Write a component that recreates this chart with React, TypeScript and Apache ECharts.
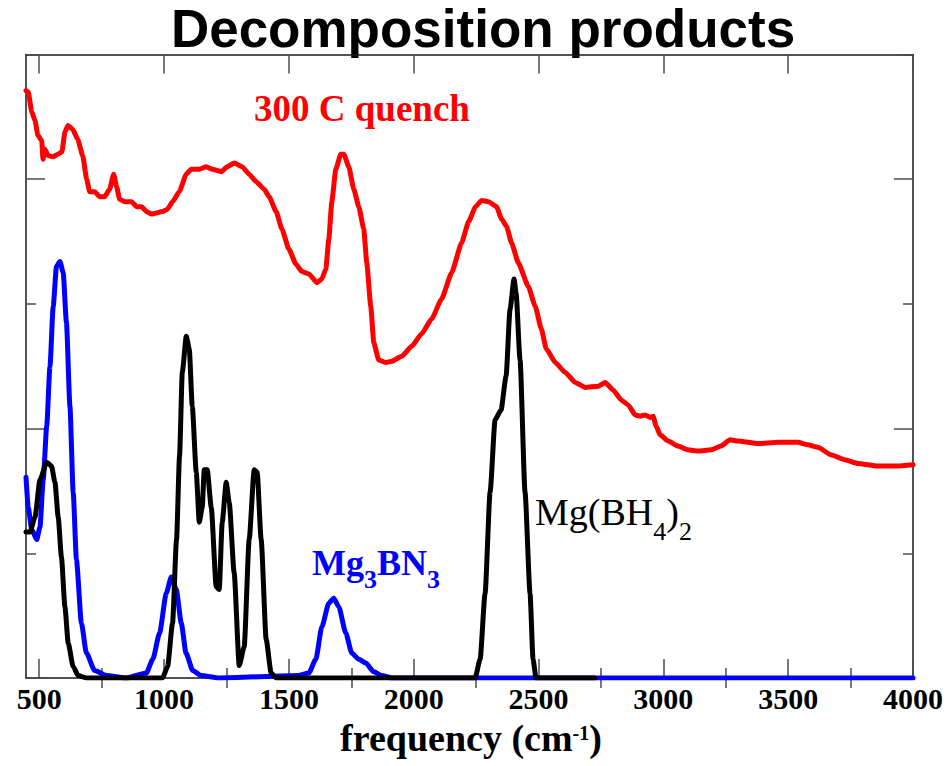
import { useEffect, useRef } from "react";
import * as echarts from "echarts";

// Frequency axis range (cm^-1) and tick positions
const FREQ_MIN = 447;
const FREQ_MAX = 4000;
const freqMajorTicks = [500, 1000, 1500, 2000, 2500, 3000, 3500, 4000];
const freqMinorTicks = [750, 1250, 1750, 2250, 2750, 3250, 3750];

// Intensity axis (arbitrary units, curves offset for clarity)
const INT_MIN = 0;
const INT_MAX = 5;
const intMajorTicks = [0, 2, 4];
const intMinorTicks = [1, 3, 5];

// Measured spectrum of the sample quenched from 300 C
const quench300C: [number, number][] = [
  [447, 4.71], [456, 4.7], [470, 4.54], [483, 4.47], [495, 4.35], [510, 4.31], [515, 4.16],
  [523, 4.24], [535, 4.19], [555, 4.18], [575, 4.2], [591, 4.22], [603, 4.38], [615, 4.43],
  [634, 4.4], [654, 4.32], [674, 4.19], [690, 4.0], [702, 3.9], [722, 3.9], [742, 3.86],
  [762, 3.86], [782, 3.92], [798, 4.04], [810, 3.94], [822, 3.84], [842, 3.82], [870, 3.82],
  [890, 3.78], [910, 3.78], [930, 3.74], [950, 3.72], [994, 3.74], [1014, 3.76], [1034, 3.82],
  [1061, 3.9], [1089, 4.04], [1109, 4.08], [1141, 4.08], [1169, 4.1], [1193, 4.08], [1229, 4.06],
  [1253, 4.1], [1281, 4.13], [1313, 4.1], [1341, 4.04], [1369, 3.98], [1401, 3.92], [1421, 3.86],
  [1449, 3.74], [1472, 3.6], [1500, 3.44], [1528, 3.32], [1552, 3.26], [1580, 3.24], [1612, 3.17],
  [1632, 3.2], [1648, 3.28], [1660, 3.52], [1672, 3.82], [1688, 4.08], [1708, 4.2], [1720, 4.2],
  [1740, 4.1], [1760, 3.92], [1780, 3.78], [1800, 3.6], [1812, 3.33], [1828, 2.98], [1840, 2.69],
  [1860, 2.55], [1888, 2.53], [1912, 2.54], [1952, 2.58], [1992, 2.66], [2032, 2.76], [2072, 2.88],
  [2112, 3.04], [2152, 3.25], [2192, 3.49], [2220, 3.66], [2248, 3.78], [2272, 3.83], [2300, 3.82],
  [2332, 3.78], [2352, 3.68], [2372, 3.62], [2392, 3.49], [2419, 3.33], [2459, 3.14], [2487, 2.98],
  [2511, 2.8], [2531, 2.64], [2567, 2.53], [2607, 2.45], [2647, 2.37], [2687, 2.33], [2739, 2.34],
  [2767, 2.37], [2799, 2.31], [2831, 2.23], [2859, 2.19], [2887, 2.11], [2907, 2.1], [2927, 2.11],
  [2947, 2.09], [2959, 2.1], [2971, 2.02], [2987, 1.95], [3019, 1.9], [3059, 1.86], [3099, 1.83],
  [3139, 1.82], [3191, 1.83], [3231, 1.86], [3267, 1.91], [3299, 1.9], [3379, 1.88], [3459, 1.89],
  [3539, 1.89], [3579, 1.87], [3619, 1.85], [3671, 1.79], [3727, 1.75], [3779, 1.72], [3858, 1.7],
  [3938, 1.7], [4000, 1.71],
];

// Calculated spectrum of Mg(BH4)2
const mgBH4Calc: [number, number][] = [
  [447, 1.17], [463, 1.17], [483, 1.29], [503, 1.59], [530, 1.73], [549, 1.7], [563, 1.57],
  [576, 1.29], [589, 0.97], [603, 0.57], [616, 0.28], [636, 0.09], [656, 0.02], [689, 0],
  [994, 0], [1014, 0.09], [1034, 0.44], [1050, 1.11], [1062, 1.78], [1073, 2.45], [1089, 2.74],
  [1101, 2.64], [1113, 2.18], [1129, 1.65], [1141, 1.25], [1153, 1.37], [1161, 1.67], [1173, 1.67],
  [1189, 1.37], [1209, 0.73], [1221, 0.71], [1233, 1.25], [1249, 1.57], [1261, 1.41], [1281, 0.84],
  [1301, 0.1], [1321, 0.25], [1341, 1.11], [1361, 1.67], [1373, 1.65], [1389, 1.11], [1409, 0.31],
  [1429, 0.04], [1449, 0], [2246, 0], [2266, 0.15], [2286, 0.68], [2306, 1.49], [2326, 2.07],
  [2350, 2.15], [2370, 2.42], [2386, 2.96], [2402, 3.2], [2410, 3.09], [2426, 2.55], [2446, 1.49],
  [2466, 0.68], [2478, 0.15], [2490, 0], [2725, 0],
];

// Calculated spectrum of Mg3BN3
const mg3BN3Calc: [number, number][] = [
  [447, 1.61], [456, 1.37], [470, 1.19], [490, 1.11], [503, 1.21], [516, 1.59], [530, 2.02],
  [543, 2.5], [556, 2.98], [569, 3.3], [583, 3.34], [596, 3.25], [609, 2.85], [623, 2.18],
  [636, 1.49], [649, 0.95], [669, 0.44], [689, 0.2], [722, 0.06], [769, 0.02], [849, 0],
  [929, 0.04], [955, 0.15], [982, 0.36], [1009, 0.68], [1029, 0.81], [1049, 0.71], [1069, 0.44],
  [1088, 0.2], [1115, 0.06], [1148, 0.02], [1221, 0], [1540, 0.02], [1580, 0.04], [1608, 0.15],
  [1632, 0.41], [1660, 0.6], [1680, 0.64], [1700, 0.57], [1728, 0.36], [1752, 0.2], [1780, 0.15],
  [1808, 0.12], [1840, 0.05], [1872, 0.02], [1912, 0], [4000, 0],
];

const SERIF = '"Liberation Serif", "Times New Roman", serif';
const SANS = '"Liberation Sans", Arial, sans-serif';

type Run = { text: string; size: number; shift: number };

let measureCtx: CanvasRenderingContext2D | null = null;
function textWidth(text: string, font: string): number {
  if (!measureCtx) measureCtx = document.createElement("canvas").getContext("2d");
  if (!measureCtx) return text.length * 10;
  measureCtx.font = font;
  return measureCtx.measureText(text).width;
}

// Lays out text pieces on a shared baseline (for sub/superscripts)
function runsText(
  x: number,
  baseline: number,
  runs: Run[],
  weight: string,
  color: string,
  align: "left" | "center" = "left"
) {
  const fonts = runs.map((r) => `${weight} ${r.size}px ${SERIF}`);
  const widths = runs.map((r, i) => textWidth(r.text, fonts[i]));
  const total = widths.reduce((a, b) => a + b, 0);
  let cx = align === "center" ? x - total / 2 : x;
  return runs.map((r, i) => {
    const el = {
      type: "text",
      x: cx,
      y: baseline + r.shift - 0.3375 * r.size,
      silent: true,
      style: {
        text: r.text,
        font: fonts[i],
        fill: color,
        align: "left",
        verticalAlign: "middle",
      },
    };
    cx += widths[i];
    return el;
  });
}

const frameLine = { show: true, onZero: false, lineStyle: { color: "#1a1a1a", width: 1.5 } };
const tickStyle = { color: "#4d4d4d", width: 1.5 };

function freqAxis(position: string, ticks: number[], len: number, withLine: boolean, withLabels: boolean) {
  return {
    type: "value",
    position,
    min: FREQ_MIN,
    max: FREQ_MAX,
    axisLine: withLine ? frameLine : { show: false },
    axisTick: { show: true, inside: true, length: len, customValues: ticks, lineStyle: tickStyle },
    axisLabel: withLabels
      ? {
          show: true,
          customValues: ticks,
          margin: 5,
          formatter: (v: number) => String(Math.round(v)),
          textStyle: { fontFamily: SERIF, fontWeight: "bold", fontSize: 30, color: "#000" },
          fontFamily: SERIF,
          fontWeight: "bold",
          fontSize: 30,
          color: "#000",
        }
      : { show: false },
    splitLine: { show: false },
  };
}

function intAxis(position: string, ticks: number[], len: number, withLine: boolean) {
  return {
    type: "value",
    position,
    min: INT_MIN,
    max: INT_MAX,
    axisLine: withLine ? frameLine : { show: false },
    axisTick: { show: true, inside: true, length: len, customValues: ticks, lineStyle: tickStyle },
    axisLabel: { show: false },
    splitLine: { show: false },
  };
}

export default function App() {
  const ref = useRef<HTMLDivElement>(null);

  useEffect(() => {
    if (!ref.current) return;
    const chart = echarts.init(ref.current, null, { renderer: "svg" });

    const lineSeries = (data: [number, number][], color: string, smooth: number | boolean) => ({
      type: "line",
      data,
      xAxisIndex: 0,
      yAxisIndex: 0,
      symbol: "none",
      showSymbol: false,
      smooth,
      smoothMonotone: "x",
      clip: true,
      lineStyle: { color, width: 5, join: "round", cap: "round" },
    });

    chart.setOption({
      animation: false,
      backgroundColor: "#ffffff",
      textStyle: { fontFamily: SERIF },
      grid: { left: 26, right: 29.5, top: 54.5, bottom: 88, containLabel: false },
      xAxis: [
        freqAxis("bottom", freqMajorTicks, 19, true, true),
        freqAxis("bottom", freqMinorTicks, 10, false, false),
        freqAxis("top", freqMajorTicks, 19, true, false),
        freqAxis("top", freqMinorTicks, 10, false, false),
      ],
      yAxis: [
        intAxis("left", intMajorTicks, 19, true),
        intAxis("left", intMinorTicks, 10, false),
        intAxis("right", intMajorTicks, 19, true),
        intAxis("right", intMinorTicks, 10, false),
      ],
      series: [
        lineSeries(quench300C, "#ff0000", 0.15),
        lineSeries(mg3BN3Calc, "#0000ff", 0.2),
        lineSeries(mgBH4Calc, "#000000", 0.2),
      ],
      graphic: [
        {
          type: "text",
          x: 483,
          y: 28,
          silent: true,
          style: {
            text: "Decomposition products",
            font: `bold 53px ${SANS}`,
            fill: "#000",
            align: "center",
            verticalAlign: "middle",
          },
        },
        ...runsText(254, 121, [{ text: "300 C quench", size: 37, shift: 0 }], "bold", "#ff0000"),
        ...runsText(
          312,
          575,
          [
            { text: "Mg", size: 36, shift: 0 },
            { text: "3", size: 26, shift: 13 },
            { text: "BN", size: 36, shift: 0 },
            { text: "3", size: 26, shift: 13 },
          ],
          "bold",
          "#0000ff"
        ),
        ...runsText(
          535,
          525,
          [
            { text: "Mg(BH", size: 38, shift: 0 },
            { text: "4", size: 26, shift: 15 },
            { text: ")", size: 38, shift: 0 },
            { text: "2", size: 26, shift: 15 },
          ],
          "normal",
          "#000000"
        ),
        ...runsText(
          471,
          751,
          [
            { text: "frequency (cm", size: 38, shift: 0 },
            { text: "-1", size: 20, shift: -11 },
            { text: ")", size: 38, shift: 0 },
          ],
          "bold",
          "#000000",
          "center"
        ),
      ],
    });

    return () => chart.dispose();
  }, []);

  return (
    <div
      ref={ref}
      style={{ position: "fixed", left: 0, top: 0, width: 946, height: 766, background: "#fff" }}
    />
  );
}
